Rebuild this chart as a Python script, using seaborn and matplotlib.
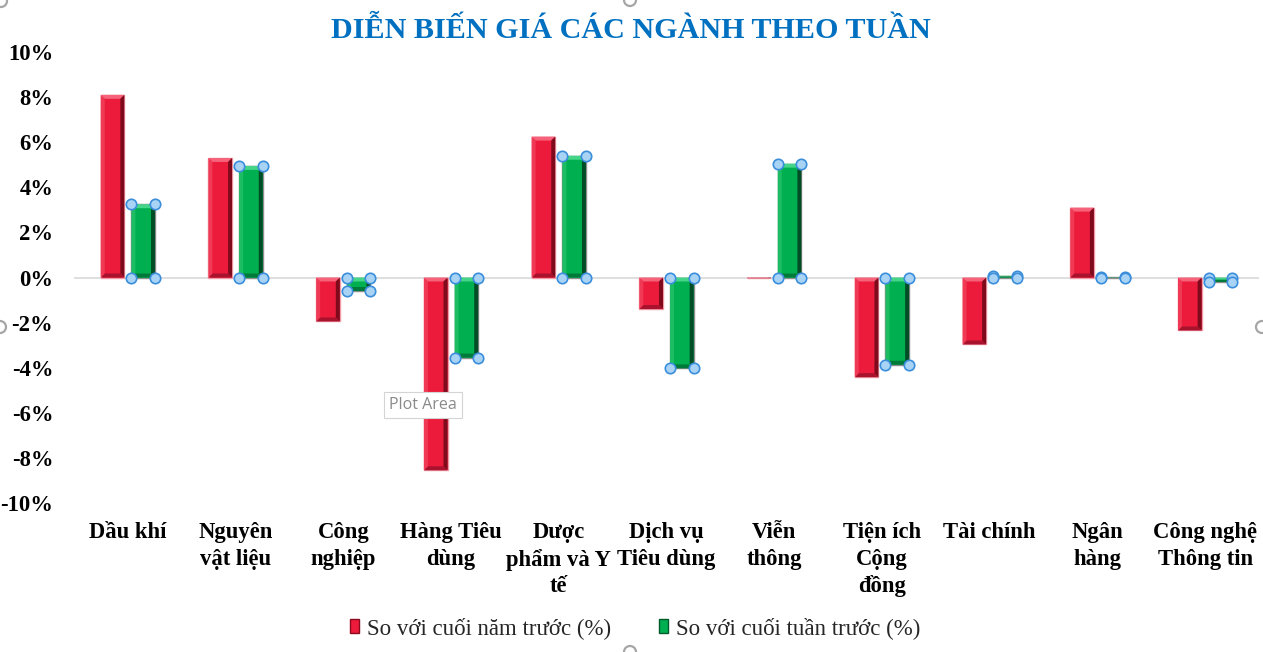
import matplotlib
matplotlib.use("Agg")
import matplotlib.pyplot as plt
import seaborn as sns
import pandas as pd
from matplotlib.patches import Polygon, Patch, Circle
from matplotlib.transforms import IdentityTransform
from matplotlib.colors import to_rgba

# ---------------- data ----------------
categories = [
    "Dầu khí", "Nguyên\nvật liệu", "Công\nnghiệp", "Hàng Tiêu\ndùng",
    "Dược\nphẩm và Y\ntế", "Dịch vụ\nTiêu dùng", "Viễn\nthông",
    "Tiện ích\nCộng\nđồng", "Tài chính", "Ngân\nhàng", "Công nghệ\nThông tin",
]
series_names = ["So với cuối năm trước (%)", "So với cuối tuần trước (%)"]
ytd_change = [8.1, 5.3, -1.95, -8.55, 6.25, -1.4, -0.03, -4.42, -2.97, 3.1, -2.35]
wow_change = [3.25, 4.95, -0.6, -3.55, 5.4, -4.03, 5.05, -3.87, 0.08, 0.02, -0.2]
y_ticks = [-10, -8, -6, -4, -2, 0, 2, 4, 6, 8, 10]
title = "DIỄN BIẾN GIÁ CÁC NGÀNH THEO TUẦN"

RED = "#EC1B3B"
GREEN = "#00B050"
bevel_cols = {
    RED: dict(top="#F5627A", right="#7E0A1C", bottom="#A8122C", left="#F03A55", edge="#F29AA8"),
    GREEN: dict(top="#45D588", right="#004D26", bottom="#007A3A", left="#1DBE63", edge="#8E8E8E"),
}

sns.set_theme(style="white")
plt.rcParams["font.family"] = ["Liberation Serif", "DejaVu Serif"]

df = pd.DataFrame({
    "Ngành": categories * 2,
    "Series": [series_names[0]] * len(categories) + [series_names[1]] * len(categories),
    "Value": ytd_change + wow_change,
})

W, H = 1263, 652
fig = plt.figure(figsize=(W / 100, H / 100), dpi=100)
fig.patch.set_facecolor("white")
ax = fig.add_axes([74 / W, 1 - 503 / H, (1259 - 74) / W, (503 - 52) / H])

sns.barplot(data=df, x="Ngành", y="Value", hue="Series", order=categories,
            hue_order=series_names, palette=[RED, GREEN], width=0.57, gap=0.23,
            saturation=1, errorbar=None, legend=False, ax=ax, zorder=3)

ax.set_xlim(-0.5, len(categories) - 0.5)
ax.set_ylim(-10, 10)
ax.axhline(0, color="#D9D9D9", lw=1.2, zorder=1)

for s in ax.spines.values():
    s.set_visible(False)
ax.grid(False)
ax.set_xlabel("")
ax.set_ylabel("")
ax.set_yticks(y_ticks)
ax.set_yticklabels([f"{v:d}%" for v in y_ticks], fontsize=16.3, fontweight="bold", color="black")
ax.set_xticks(range(len(categories)))
ax.set_xticklabels(categories, fontsize=16.3, fontweight="bold", color="black",
                   linespacing=1.32, va="top")
ax.tick_params(axis="y", length=0, pad=15)
ax.tick_params(axis="x", length=0, pad=14)

# pixel -> data conversion for bevel
p0 = ax.transData.transform((0, 0))
p1 = ax.transData.transform((1, 1))
px_x = p1[0] - p0[0]
px_y = p1[1] - p0[1]
bpx = 4.0

bars = list(ax.patches)
green_rgba = to_rgba(GREEN)
for bar in bars:
    fc = bar.get_facecolor()
    is_green = all(abs(a - b) < 0.02 for a, b in zip(fc[:3], green_rgba[:3]))
    cols = bevel_cols[GREEN if is_green else RED]
    x0 = bar.get_x()
    x1 = x0 + bar.get_width()
    y0 = bar.get_y()
    y1 = y0 + bar.get_height()
    ylo, yhi = min(y0, y1), max(y0, y1)
    bar.set_edgecolor(cols["edge"])
    bar.set_linewidth(1.0)
    bx = bpx / px_x
    by = min(bpx / px_y, (yhi - ylo) / 2)
    polys = [
        ([(x0, yhi), (x1, yhi), (x1 - bx, yhi - by), (x0 + bx, yhi - by)], cols["top"]),
        ([(x1, yhi), (x1, ylo), (x1 - bx, ylo + by), (x1 - bx, yhi - by)], cols["right"]),
        ([(x0, ylo), (x1, ylo), (x1 - bx, ylo + by), (x0 + bx, ylo + by)], cols["bottom"]),
        ([(x0, yhi), (x0, ylo), (x0 + bx, ylo + by), (x0 + bx, yhi - by)], cols["left"]),
    ]
    for pts, c in polys:
        ax.add_patch(Polygon(pts, closed=True, facecolor=c, edgecolor="none", zorder=3.5))
    if is_green:
        ax.plot([x0, x1, x0, x1], [yhi, yhi, ylo, ylo], linestyle="none", marker="o",
                markersize=7.5, markerfacecolor="#A9D3F5", markeredgecolor="#3A8EDB",
                markeredgewidth=1.2, zorder=6, clip_on=False)

# title
fig.text(631 / W, 1 - 30 / H, title, ha="center", va="center", fontsize=21.7,
         fontweight="bold", color="#0070C0")

# legend
handles = [Patch(facecolor=RED, edgecolor="#8B0A1E", linewidth=1.0),
           Patch(facecolor=GREEN, edgecolor="#005A2B", linewidth=1.0)]
fig.legend(handles, series_names, loc="center", bbox_to_anchor=(635 / W, 1 - 628 / H),
           ncol=2, frameon=False, fontsize=16.5, handlelength=0.4, handleheight=0.6,
           handletextpad=0.35, columnspacing=2.1)

# "Plot Area" tooltip
fig.text(423 / W, 1 - 405 / H, "Plot Area", ha="center", va="center", fontsize=11.5,
         family=["Open Sans", "DejaVu Sans"], color="#8A8A8A",
         bbox=dict(boxstyle="square,pad=0.3", facecolor="white", edgecolor="#D4D4D4", lw=0.8))

# chart-area selection handles
for (hx, hy) in [(1, 1), (630, 0), (0, 327), (1262, 327), (630, 652)]:
    fig.add_artist(Circle((hx, H - hy), 6, transform=IdentityTransform(), facecolor="white",
                          edgecolor="#A6A6A6", lw=1.6, zorder=10))

fig.savefig("out.png", dpi=100, facecolor="white")
